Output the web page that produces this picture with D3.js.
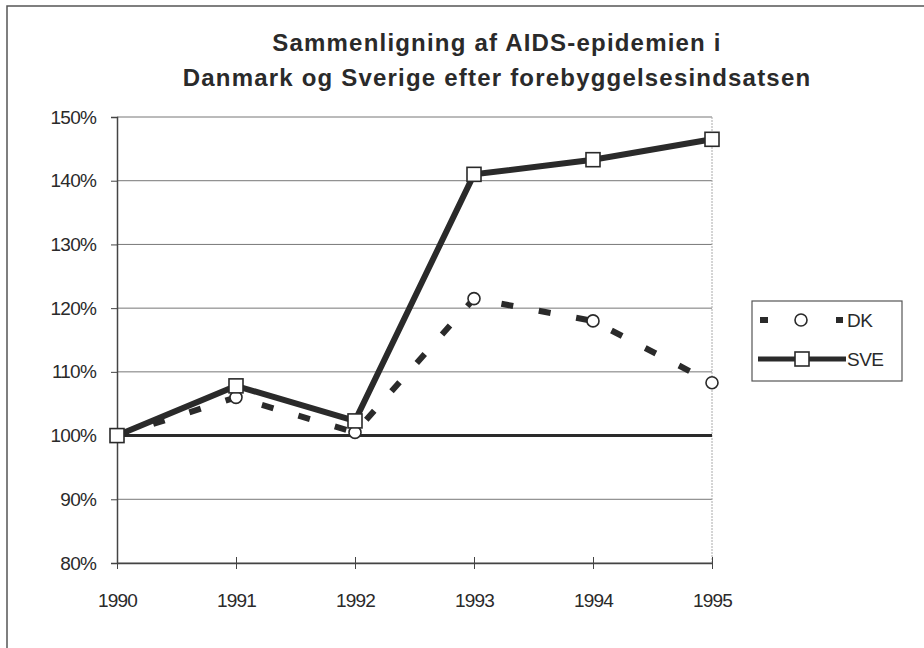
<!DOCTYPE html>
<html><head><meta charset="utf-8">
<script src="https://cdn.jsdelivr.net/npm/d3@7"></script>
<style>body{margin:0;background:#fff;} text{font-family:Arial,"Liberation Sans",sans-serif;}</style>
</head><body>
<svg id="c" width="924" height="648"></svg>
<script>
const years = [1990, 1991, 1992, 1993, 1994, 1995];
const dk = [100, 106, 100.5, 121.5, 118, 108.3];
const sve = [100, 107.8, 102.3, 141, 143.3, 146.5];
const baseline = [100, 100, 100, 100, 100, 100];
const yTicks = [80, 90, 100, 110, 120, 130, 140, 150];
const titleLines = ["Sammenligning af AIDS-epidemien i", "Danmark og Sverige efter forebyggelsesindsatsen"];
const seriesNames = ["DK", "SVE"];

const svg = d3.select("#c");
const ink = "#2a2a2a";
const FF = "Arial, 'Liberation Sans', sans-serif";
svg.append("rect").attr("x", 7).attr("y", 6).attr("width", 930).attr("height", 660)
  .attr("fill", "#fff").attr("stroke", "#555").attr("stroke-width", 1.5);

const x = d3.scalePoint().domain(years).range([117, 712]);
const y = d3.scaleLinear().domain([80, 150]).range([563, 117]);

// title
svg.append("g").selectAll("text").data(titleLines).join("text")
  .attr("x", 497).attr("y", (d, i) => 51 + i * 35)
  .attr("text-anchor", "middle").attr("font-size", 24).attr("font-weight", "bold")
  .attr("letter-spacing", 1.2)
  .attr("fill", ink).text(d => d);

// gridlines
svg.append("g").selectAll("line").data(yTicks).join("line")
  .attr("x1", 117).attr("x2", 712).attr("y1", d => y(d)).attr("y2", d => y(d))
  .attr("stroke", "#777").attr("stroke-width", 1);
// right edge
svg.append("line").attr("x1", 712).attr("x2", 712).attr("y1", y(150)).attr("y2", y(80))
  .attr("stroke", "#aaa").attr("stroke-width", 1).attr("stroke-dasharray", "2,1");

// y axis
const yAxis = d3.axisLeft(y).tickValues(yTicks).tickFormat(d => d + "%").tickSize(6).tickPadding(15);
const gy = svg.append("g").attr("transform", "translate(117,0)").call(yAxis);
gy.select(".domain").attr("stroke", "#444").attr("stroke-width", 1.5);
gy.selectAll(".tick line").attr("stroke", "#444");
gy.selectAll("text").attr("font-size", 19).attr("letter-spacing", -0.8).attr("fill", ink).attr("font-family", FF);

// x axis
const xAxis = d3.axisBottom(x).tickSize(6).tickSizeOuter(0).tickPadding(25);
const gx = svg.append("g").attr("transform", `translate(0,${y(80)})`).call(xAxis);
gx.select(".domain").attr("stroke", "#444").attr("stroke-width", 1.5);
gx.selectAll(".tick line").attr("stroke", "#444").attr("y1", -6).attr("y2", 6);
gx.selectAll("text").attr("font-size", 19).attr("letter-spacing", -0.8).attr("fill", ink).attr("font-family", FF);

const line = d3.line().x((d, i) => x(years[i])).y(d => y(d));

// baseline 100%
svg.append("path").datum(baseline).attr("d", line).attr("fill", "none")
  .attr("stroke", ink).attr("stroke-width", 3);

// DK
svg.append("path").datum(dk).attr("d", line).attr("fill", "none")
  .attr("stroke", ink).attr("stroke-width", 6).attr("stroke-dasharray", "12,26");
// SVE
svg.append("path").datum(sve).attr("d", line).attr("fill", "none")
  .attr("stroke", ink).attr("stroke-width", 6);

svg.append("g").selectAll("circle").data(dk).join("circle")
  .attr("cx", (d, i) => x(years[i])).attr("cy", d => y(d)).attr("r", 6)
  .attr("fill", "#fff").attr("stroke", ink).attr("stroke-width", 1.6);
svg.append("g").selectAll("rect").data(sve).join("rect")
  .attr("x", (d, i) => x(years[i]) - 7).attr("y", d => y(d) - 7)
  .attr("width", 14).attr("height", 14)
  .attr("fill", "#fff").attr("stroke", ink).attr("stroke-width", 1.6);

// legend
const lg = svg.append("g");
lg.append("rect").attr("x", 752).attr("y", 301).attr("width", 150).attr("height", 80)
  .attr("fill", "#fff").attr("stroke", "#555").attr("stroke-width", 1.2);
const rows = [320, 359];
lg.append("line").attr("x1", 760).attr("x2", 768).attr("y1", rows[0]).attr("y2", rows[0])
  .attr("stroke", ink).attr("stroke-width", 6);
lg.append("line").attr("x1", 836).attr("x2", 843).attr("y1", rows[0]).attr("y2", rows[0])
  .attr("stroke", ink).attr("stroke-width", 6);
lg.append("circle").attr("cx", 801).attr("cy", rows[0]).attr("r", 6)
  .attr("fill", "#fff").attr("stroke", ink).attr("stroke-width", 1.6);
lg.append("line").attr("x1", 758).attr("x2", 846).attr("y1", rows[1]).attr("y2", rows[1])
  .attr("stroke", ink).attr("stroke-width", 5);
lg.append("rect").attr("x", 795).attr("y", rows[1] - 7).attr("width", 14).attr("height", 14)
  .attr("fill", "#fff").attr("stroke", ink).attr("stroke-width", 1.6);
lg.selectAll("text.lab").data(seriesNames).join("text").attr("class", "lab")
  .attr("x", 847).attr("y", (d, i) => rows[i] + 7).attr("font-size", 19).attr("letter-spacing", -0.5)
  .attr("fill", ink).text(d => d);
</script>
</body></html>
